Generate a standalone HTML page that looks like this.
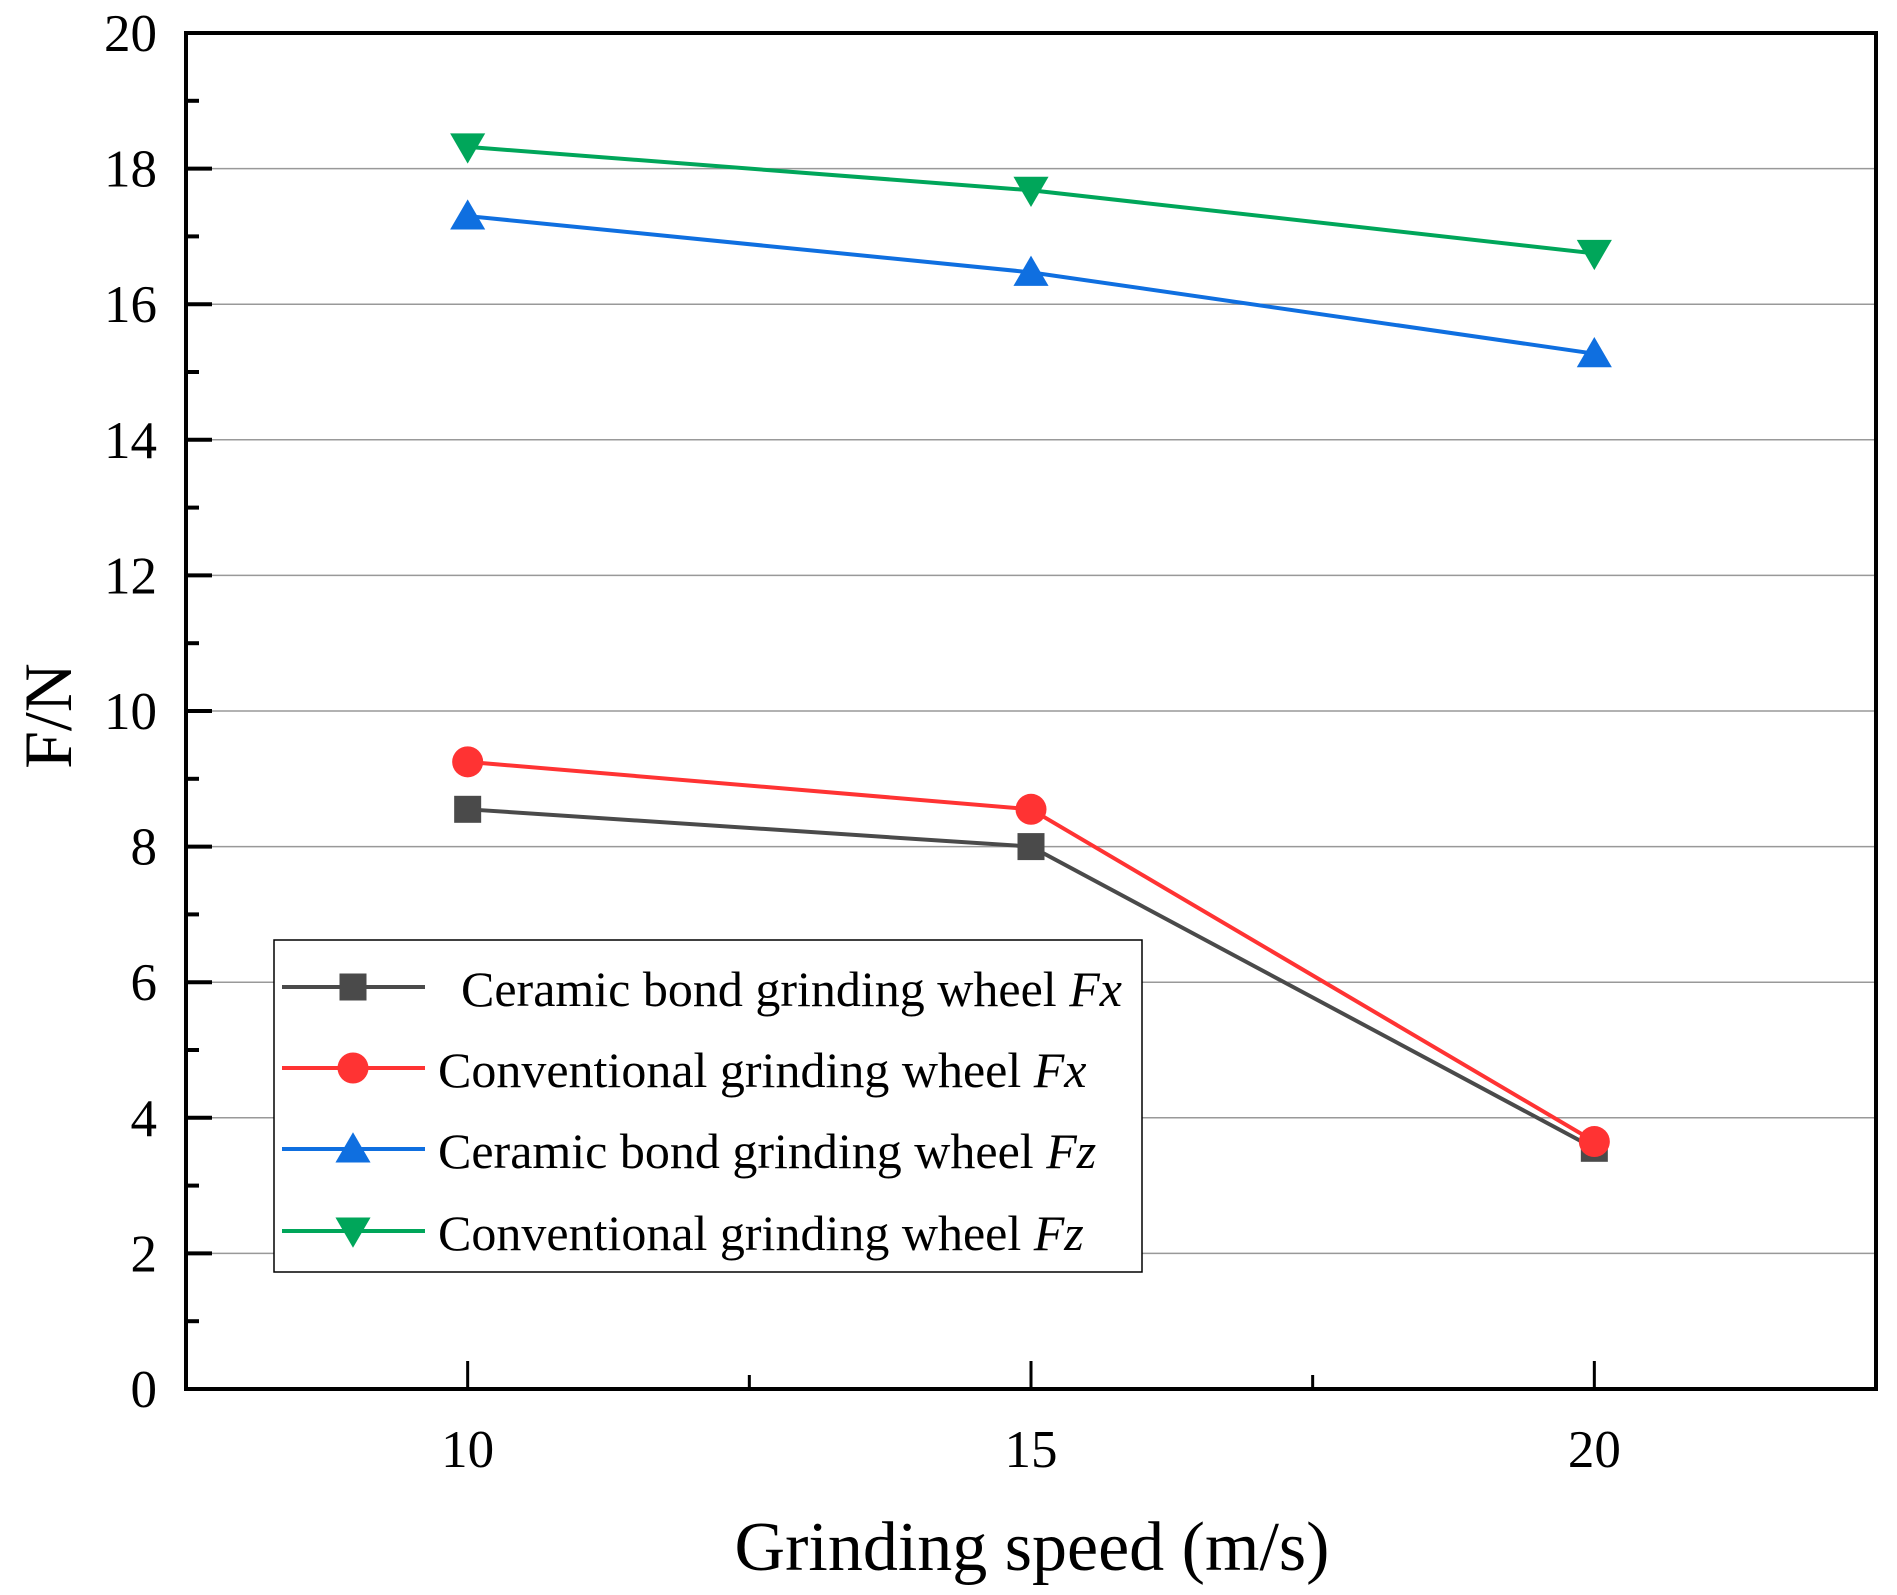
<!DOCTYPE html>
<html><head><meta charset="utf-8"><style>
html,body{margin:0;padding:0;background:#fff;}
svg{display:block;font-family:"Liberation Serif",serif;}
</style></head><body>
<svg id="chart" width="1897" height="1595" viewBox="0 0 1897 1595" xmlns="http://www.w3.org/2000/svg"></svg>
<script>
const categories = [10, 15, 20];
const ceramicFx = [8.55, 8.0, 3.55];
const conventionalFx = [9.25, 8.55, 3.65];
const ceramicFz = [17.3, 16.47, 15.27];
const conventionalFz = [18.32, 17.68, 16.75];
const yTicks = [0, 2, 4, 6, 8, 10, 12, 14, 16, 18, 20];
const xTicks = [10, 15, 20];
const seriesNames = ["Ceramic bond grinding wheel ", "Conventional grinding wheel ", "Ceramic bond grinding wheel ", "Conventional grinding wheel "];
const seriesSuffix = ["Fx", "Fx", "Fz", "Fz"];

const NS = "http://www.w3.org/2000/svg";
const svg = document.getElementById('chart');
const L = 186, R = 1876, T = 33, B = 1389;
const xMin = 7.5, xMax = 22.5, yMin = 0, yMax = 20;
const xs = v => L + (v - xMin) / (xMax - xMin) * (R - L);
const ys = v => B - (v - yMin) / (yMax - yMin) * (B - T);
function mk(tag, attrs, parent) {
  const e = document.createElementNS(NS, tag);
  for (const k in attrs) e.setAttribute(k, attrs[k]);
  (parent || svg).appendChild(e);
  return e;
}
yTicks.forEach(v => {
  if (v === 0 || v === 20) return;
  const g = mk('line', {x1: L, x2: R, y1: ys(v), y2: ys(v), stroke: '#999', 'stroke-width': 1.5});
  
  
});
yTicks.forEach(v => {
  const t = mk('line', {x1: L, x2: L + 26, y1: ys(v), y2: ys(v), stroke: '#000', 'stroke-width': 4});
  
  
  const lb = mk('text', {x: 157, y: ys(v) + 18, 'text-anchor': 'end', 'font-size': 53});
  lb.textContent = v;
  
  
});
for (let v = 1; v < 20; v += 2) {
  const t = mk('line', {x1: L, x2: L + 13, y1: ys(v), y2: ys(v), stroke: '#000', 'stroke-width': 4});
  
  
}
xTicks.forEach(v => {
  const t = mk('line', {x1: xs(v), x2: xs(v), y1: B, y2: B - 28, stroke: '#000', 'stroke-width': 3});
  
  
  const lb = mk('text', {x: xs(v), y: 1467, 'text-anchor': 'middle', 'font-size': 53});
  lb.textContent = v;
  
  
});
[12.5, 17.5].forEach(v => {
  const t = mk('line', {x1: xs(v), x2: xs(v), y1: B, y2: B - 14, stroke: '#000', 'stroke-width': 3});
  
  
});
const fr = mk('rect', {x: L, y: T, width: R - L, height: B - T, fill: 'none', stroke: '#000', 'stroke-width': 4});


function marker(type, cx, cy, color, s) {
  let e;
  if (type === 'square') e = mk('rect', {x: cx - s/2, y: cy - s/2, width: s, height: s, fill: color});
  else if (type === 'circle') e = mk('circle', {cx: cx, cy: cy, r: s/2 + 2, fill: color});
  else if (type === 'up') e = mk('polygon', {points: `${cx},${cy - s*0.62} ${cx - s*0.65},${cy + s*0.5} ${cx + s*0.65},${cy + s*0.5}`, fill: color});
  else e = mk('polygon', {points: `${cx},${cy + s*0.62} ${cx - s*0.65},${cy - s*0.5} ${cx + s*0.65},${cy - s*0.5}`, fill: color});
  return e;
}
const series = [
  {d: ceramicFx, c: '#4a4a4a', m: 'square', n: 'ceramic-fx'},
  {d: conventionalFx, c: '#ff3333', m: 'circle', n: 'conventional-fx'},
  {d: ceramicFz, c: '#0f6fe0', m: 'up', n: 'ceramic-fz'},
  {d: conventionalFz, c: '#00a65a', m: 'down', n: 'conventional-fz'}
];
series.forEach(s => {
  const pts = s.d.map((v, i) => xs(categories[i]) + ',' + ys(v)).join(' ');
  const pl = mk('polyline', {points: pts, fill: 'none', stroke: s.c, 'stroke-width': 4});
  
  
  s.d.forEach((v, i) => {
    const e = marker(s.m, xs(categories[i]), ys(v), s.c, 27);
    
    
  });
});
const lg = mk('g', {});


mk('rect', {x: 274, y: 940, width: 868, height: 332, fill: '#fff', stroke: '#000', 'stroke-width': 1.5}, lg);
const rowsY = [987, 1068, 1149, 1231];
const textX = [461, 438, 438, 438];
series.forEach((s, i) => {
  const y = rowsY[i];
  const e = mk('g', {}, lg);
  
  
  mk('line', {x1: 282, x2: 425, y1: y, y2: y, stroke: s.c, 'stroke-width': 4}, e);
  e.appendChild(marker(s.m, 353, y, s.c, 27));
  const t = mk('text', {x: textX[i], y: y + 19, 'font-size': 50}, e);
  t.textContent = seriesNames[i];
  const it = mk('tspan', {'font-style': 'italic'}, t);
  it.textContent = seriesSuffix[i];
});
const xt = mk('text', {x: 1032, y: 1570, 'text-anchor': 'middle', 'font-size': 70});
xt.textContent = 'Grinding speed (m/s)';


const yt = mk('text', {x: 0, y: 0, 'text-anchor': 'middle', 'font-size': 68, transform: 'translate(71,716) rotate(-90)'});
yt.textContent = 'F/N';


</script>
</body></html>
